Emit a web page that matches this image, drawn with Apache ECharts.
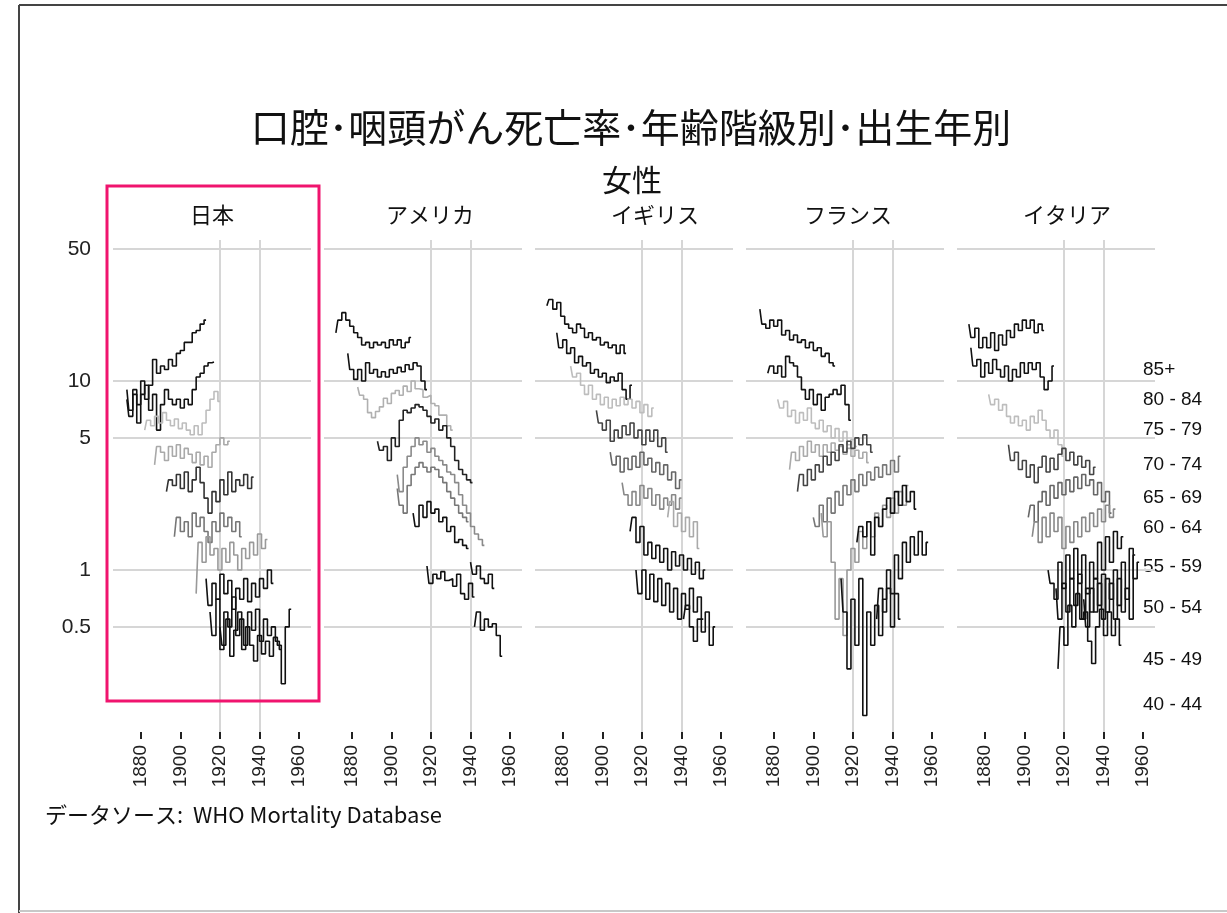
<!DOCTYPE html>
<html>
<head>
<meta charset="utf-8">
<script src="https://cdn.jsdelivr.net/npm/echarts@6/dist/echarts.min.js"></script>
<style>
  html, body { margin: 0; padding: 0; background: #fff; }
  #chart { width: 1227px; height: 913px; }
</style>
</head>
<body>
<div id="chart"></div>
<script>
// 口腔・咽頭がん死亡率（女性, 人口10万対）: 年齢階級別・出生年別
const countries = ['日本', 'アメリカ', 'イギリス', 'フランス', 'イタリア'];
const ageGroups = ['85+', '80 - 84', '75 - 79', '70 - 74', '65 - 69', '60 - 64', '55 - 59', '50 - 54', '45 - 49', '40 - 44'];
const yTicks = [0.5, 1, 5, 10, 50];
const xTicks = [1880, 1900, 1920, 1940, 1960];
const xGridYears = [1920, 1940];

// 各年齢階級の最初の出生年（2年刻み）
const jpStart = [1873, 1873, 1882, 1887, 1893, 1897, 1908, 1913, 1915, 1920];
const jpRates = [
  [8, 6.5, 9, 7.5, 10, 8, 9.5, 13, 11, 12, 11.5, 13, 12, 14, 14.5, 16, 16, 18, 18.5, 20, 21],
  [9, 7, 8.5, 6, 8.5, 9.5, 7, 8.5, 5.5, 7.5, 9, 8, 7.5, 8, 7.2, 8, 7.5, 9, 10.5, 11, 12, 12.5, 12.6],
  [5.5, 6.2, 5.8, 6.5, 6, 6.8, 6.2, 5.8, 6.3, 5.6, 6, 5.5, 5.2, 5.8, 5.2, 6, 7, 8, 8.8, 7.8],
  [3.6, 4.5, 4.2, 3.8, 4.5, 4.0, 4.6, 3.9, 4.4, 4.1, 3.7, 4.2, 3.6, 4.0, 3.5, 4.2, 4.6, 5.0, 4.6, 4.8],
  [2.6, 3.0, 2.8, 3.2, 2.7, 3.3, 2.6, 3.0, 3.5, 2.9, 2.4, 2.0, 2.6, 2.3, 3.0, 2.5, 3.3, 2.6, 3.0, 2.8, 3.2, 2.7, 3.1],
  [1.5, 1.9, 1.6, 1.8, 1.5, 2.0, 1.7, 1.9, 1.6, 1.4, 1.8, 1.6, 2.0, 1.7, 1.9, 1.6, 1.8, 1.5],
  [0.75, 1.4, 1.1, 1.5, 1.2, 1.3, 1.0, 1.3, 1.1, 1.4, 1.2, 1.0, 1.3, 1.15, 1.4, 1.2, 1.55, 1.3, 1.45],
  [0.9, 0.65, 0.85, 0.7, 0.95, 0.75, 0.88, 0.62, 0.8, 0.7, 0.9, 0.68, 0.85, 0.72, 0.9, 0.8, 1.0, 0.85],
  [0.6, 0.45, 0.7, 0.38, 0.6, 0.5, 0.72, 0.45, 0.55, 0.4, 0.6, 0.48, 0.62, 0.42, 0.55, 0.45, 0.5, 0.42, 0.38],
  [0.5, 0.4, 0.55, 0.35, 0.48, 0.6, 0.38, 0.5, 0.4, 0.33, 0.45, 0.36, 0.42, 0.35, 0.44, 0.4, 0.25, 0.5, 0.62]
];

const usStart = [1872, 1878, 1883, 1893, 1903, 1903, 1911, 1940, 1918, 1942];
const usRates = [
  [18, 21, 23, 21, 19.5, 18, 17, 15.5, 16, 15, 16, 15.5, 16, 15, 16.5, 15.5, 16.5, 15, 16, 17],
  [14, 11.5, 10.2, 11.5, 10, 12.5, 11, 11.5, 10.5, 11.2, 10.5, 11.5, 11, 11.8, 11.2, 12.2, 11.5, 12.5, 12, 10, 9],
  [9.3, 8.4, 8.0, 6.8, 6.4, 6.9, 7.3, 8.1, 7.6, 8.6, 8.9, 8.4, 9.4, 8.8, 10.0, 9.1, 9.0, 8.2, 8.4, 7.6, 7.4, 6.6, 6.6, 5.8, 5.5],
  [4.8, 4.3, 4.5, 3.8, 5.0, 4.5, 6.2, 7.0, 6.8, 7.2, 7.5, 7.3, 7.0, 6.5, 6.0, 6.3, 5.5, 5.8, 5.0, 4.5, 3.8, 3.4, 3.2, 3.0, 2.9],
  [3.2, 2.6, 3.5, 4.0, 4.5, 5.0, 4.6, 4.8, 4.2, 4.4, 4.0, 3.8, 3.6, 3.3, 3.2, 2.9, 2.5, 2.2, 2.0, 1.7, 1.55, 1.45, 1.35],
  [2.7, 2.2, 2.0, 2.8, 3.2, 3.5, 3.7, 3.5, 3.3, 3.5, 3.4, 3.1, 2.9, 2.6, 2.4, 2.2, 2.0, 1.9, 1.8],
  [2.0, 1.7, 2.2, 1.9, 2.3, 2.0, 2.1, 1.8, 1.9, 1.6, 1.7, 1.4, 1.45, 1.35, 1.3],
  [1.1, 0.95, 1.05, 0.9, 0.85, 0.95, 0.8],
  [1.05, 0.85, 0.95, 0.9, 0.98, 0.88, 0.9, 0.82, 0.95, 0.75, 0.7, 0.85, 0.72],
  [0.5, 0.6, 0.48, 0.55, 0.5, 0.52, 0.45, 0.35]
];

const ukStart = [1872, 1877, 1884, 1897, 1904, 1910, 1933, 1914, 1917, 1941];
const ukRates = [
  [25, 27, 24, 26, 22, 20, 19, 18, 20, 19, 17, 18, 16.5, 17, 15.5, 16, 15, 15.5, 14, 15.5, 14],
  [18, 15, 16.5, 14, 15, 12.5, 13.5, 12, 12.5, 11, 11.5, 10.5, 11, 9.8, 10.5, 10, 11, 9, 8, 9.5],
  [12, 10.5, 11, 9.5, 8.5, 9.5, 8, 8.5, 7.5, 8.2, 7.2, 8.0, 7.4, 8.2, 7.5, 8.0, 7.2, 7.8, 6.8, 7.5, 6.5, 7.2],
  [7.0, 6.0, 5.5, 6.2, 4.8, 5.5, 5.0, 5.8, 5.2, 6.0, 5.0, 5.5, 4.6, 5.5, 4.8, 5.5, 4.5, 5.0, 4.2],
  [4.2, 3.6, 4.0, 3.3, 3.9, 3.4, 4.0, 3.5, 4.2, 3.6, 3.9, 3.3, 3.7, 3.2, 3.6, 3.0, 3.3, 2.7, 3.0],
  [2.9, 2.5, 2.2, 2.6, 2.2, 2.8, 2.4, 2.7, 2.2, 2.5, 2.1, 2.4, 2.2, 2.5, 2.1, 2.4],
  [1.9, 2.3, 1.7, 2.0, 1.6, 1.9, 1.5, 1.8, 1.3],
  [1.6, 1.9, 1.4, 1.7, 1.2, 1.4, 1.15, 1.35, 1.1, 1.3, 1.0, 1.25, 1.05, 1.2, 1.0, 1.15, 0.95, 1.1, 0.9, 1.0],
  [1.0, 0.75, 1.0, 0.7, 0.95, 0.68, 0.9, 0.65, 0.85, 0.6, 0.8, 0.55, 0.75, 0.62, 0.8, 0.6, 0.72, 0.55],
  [0.55, 0.65, 0.5, 0.42, 0.55, 0.47, 0.6, 0.4, 0.5]
];

const frStart = [1873, 1877, 1882, 1888, 1892, 1900, 1904, 1922, 1914, 1932];
const frRates = [
  [24, 20, 19, 21, 19.5, 21, 17.5, 18.5, 16.5, 17.5, 16, 16.5, 15, 16, 14.5, 15, 13.5, 14, 12.5, 12],
  [11, 12, 11, 12, 10.5, 13.5, 12.5, 12, 10.5, 9, 8, 9, 7.5, 8.5, 7, 8.2, 8.5, 9, 8.5, 9.5, 7.5, 6.2],
  [8, 7.2, 7.8, 6.5, 7.0, 6.0, 6.8, 6.2, 7.2, 6.0, 5.6, 6.2, 5.4, 5.8, 5.0, 5.6, 4.8, 5.4, 4.6, 4.9, 4.5],
  [3.4, 4.2, 3.8, 4.5, 4.0, 4.8, 4.2, 4.6, 4.0, 4.6, 4.2, 4.7, 4.3, 4.5, 4.1, 4.4, 4.0, 4.3, 3.9, 4.2, 3.7],
  [2.6, 3.2, 2.8, 3.4, 3.0, 3.6, 3.3, 4.0, 3.6, 4.2, 3.8, 4.6, 4.2, 4.8, 4.4, 5.0, 4.6, 5.2, 4.6, 4.2],
  [1.9, 1.7, 2.2, 1.8, 2.4, 2.0, 2.6, 2.2, 2.8, 2.5, 3.0, 2.6, 3.2, 2.8, 3.3, 3.0, 3.5, 3.1, 3.6, 3.2, 3.8, 3.3, 4.0],
  [2.0, 1.5, 1.8, 1.1, 0.55, 0.9, 0.45, 1.0, 1.3, 1.1, 1.6, 1.3, 1.8, 1.5, 2.0, 1.7, 2.2, 1.9, 2.4, 2.0, 2.6, 2.2, 2.8],
  [1.4, 1.7, 1.5, 1.8, 1.2, 1.9, 1.7, 2.1, 2.4, 2.0, 2.6, 2.2, 2.8, 2.3, 2.6, 2.1],
  [0.9, 0.6, 0.3, 0.7, 0.4, 0.9, 0.17, 0.6, 0.4, 0.65, 0.45, 0.7, 0.8, 0.5, 0.75, 0.55],
  [0.55, 0.8, 0.6, 1.0, 0.75, 1.2, 0.9, 1.4, 1.1, 1.5, 1.2, 1.6, 1.2, 1.4]
];

const itStart = [1872, 1873, 1882, 1892, 1902, 1904, 1912, 1916, 1917, 1930];
const itRates = [
  [20, 17, 19, 15, 17, 15, 18, 14.5, 17.5, 15.5, 18.5, 17, 20, 18.5, 21, 19, 21, 18, 20, 18.5],
  [15, 12, 13, 10.5, 12.5, 11, 13, 11.5, 10.5, 12, 10, 11.5, 10.5, 12.5, 11, 12.5, 11.5, 12.5, 10.5, 9.0, 10.0, 12],
  [8.5, 7.5, 8.0, 7.0, 7.5, 6.5, 6.0, 6.5, 5.8, 6.2, 5.5, 6.5, 6.0, 7.0, 6.2, 5.5, 5.0, 5.5, 4.6, 4.0],
  [4.6, 3.8, 4.2, 3.4, 3.8, 3.1, 3.6, 2.9, 3.5, 4.0, 3.3, 3.9, 3.4, 4.1, 4.4, 3.8, 4.2, 3.6, 4.0, 3.5, 3.8, 3.2, 3.5],
  [1.9, 2.2, 1.8, 2.3, 2.6, 2.2, 2.8, 2.4, 2.9, 2.5, 3.0, 2.6, 3.1, 2.7, 3.2, 2.8, 3.0, 2.5, 2.9, 2.3, 2.6, 2.0],
  [1.5, 1.8, 1.4, 1.9, 1.5, 2.0, 1.6, 1.9, 1.3, 1.7, 1.4, 1.8, 1.5, 1.9, 1.6, 2.0, 1.7, 2.1, 1.8, 2.2, 1.9, 2.1],
  [1.0, 0.85, 0.7, 1.1, 0.8, 1.2, 0.9, 1.3, 0.85, 1.2, 0.75, 1.1, 0.9, 1.4, 1.0, 1.5, 1.1, 1.6, 1.3, 1.5],
  [0.8, 0.55, 0.85, 0.6, 0.9, 0.65, 0.95, 0.55, 0.8, 0.6, 0.9, 0.65, 0.95, 0.6, 0.85, 0.55, 0.9, 0.6, 0.8, 0.55, 1.2],
  [0.3, 0.5, 0.4, 0.65, 0.5, 0.75, 0.55, 0.6, 0.42, 0.32, 0.5, 0.62, 0.45, 0.6, 0.45, 0.55, 0.4],
  [0.7, 0.5, 0.8, 0.6, 0.85, 0.55, 0.9, 0.7, 1.0, 0.65, 1.1, 0.7, 1.3, 0.9, 1.1]
];

// 線の濃淡（年齢階級順）
const jpShades = ['#111', '#111', '#bdbdbd', '#a9a9a9', '#333', '#777', '#999', '#111', '#111', '#111'];
const usShades = ['#111', '#111', '#b0b0b0', '#222', '#8a8a8a', '#777', '#111', '#111', '#111', '#111'];
const ukShades = ['#111', '#111', '#bdbdbd', '#444', '#666', '#888', '#aaa', '#111', '#111', '#111'];
const frShades = ['#111', '#111', '#bdbdbd', '#aaa', '#444', '#777', '#999', '#111', '#111', '#111'];
const itShades = ['#111', '#111', '#bdbdbd', '#444', '#666', '#888', '#111', '#111', '#111', '#111'];

const panels = [
  { start: jpStart, rates: jpRates, shades: jpShades },
  { start: usStart, rates: usRates, shades: usShades },
  { start: ukStart, rates: ukRates, shades: ukShades },
  { start: frStart, rates: frRates, shades: frShades },
  { start: itStart, rates: itRates, shades: itShades }
];

// 縦軸は対数目盛り（log10 に変換して描く）
const yMin = -0.857, yMax = 1.746;
const yTickPos = yTicks.map(v => Math.log10(v));
const numFont = 'Liberation Sans, Arial, sans-serif';
const jpFont = '"Noto Sans CJK JP", sans-serif';
const gridColor = '#d6d6d6';

const grids = [], xAxes = [], yAxes = [], series = [];
panels.forEach((p, i) => {
  const left = 113 + 211 * i;
  grids.push({ left: left, top: 240, width: 198, height: 492 });
  xAxes.push({
    type: 'value', gridIndex: i, min: 1866, max: 1966, position: 'bottom',
    axisLine: { show: false, onZero: false },
    axisTick: { show: true, customValues: xTicks, length: 7, lineStyle: { color: '#222', width: 2 } },
    axisLabel: { customValues: xTicks, rotate: 90, margin: 13, fontSize: 19, color: '#222', fontFamily: numFont, formatter: v => String(v) },
    splitLine: { show: false }
  });
  // 1920, 1940 の縦グリッド線だけ
  xAxes.push({
    type: 'value', gridIndex: i, min: 1866, max: 1966, position: 'top',
    axisLine: { show: false, onZero: false },
    axisTick: { show: false, customValues: xGridYears },
    axisLabel: { show: false, customValues: xGridYears },
    splitLine: { show: true, lineStyle: { color: gridColor, width: 2 } }
  });
  yAxes.push({
    type: 'value', gridIndex: i, min: yMin, max: yMax,
    axisLine: { show: false },
    axisTick: { show: false, customValues: yTickPos },
    axisLabel: {
      show: i === 0, customValues: yTickPos, margin: 22, fontSize: 21, color: '#222', fontFamily: numFont,
      formatter: function (v) {
        const n = Math.pow(10, v);
        return n < 1 ? n.toFixed(1) : String(Math.round(n));
      }
    },
    splitLine: { show: true, lineStyle: { color: gridColor, width: 2 } }
  });
  p.rates.forEach((vals, a) => {
    series.push({
      type: 'line',
      name: ageGroups[a],
      xAxisIndex: 2 * i,
      yAxisIndex: i,
      data: vals.map((v, k) => [p.start[a] + 2 * k, Math.log10(v)]),
      symbol: 'none',
      step: 'middle',
      silent: true,
      lineStyle: { color: p.shades[a], width: 1.6 }
    });
  });
});

const panelTitleX = [212, 430, 655, 848, 1067];
const ageLabelY = [370, 400, 430, 465, 498, 528, 567, 608, 660, 705];

const graphic = [
  { type: 'line', shape: { x1: 19, y1: 5, x2: 1227, y2: 5 }, style: { stroke: '#444', lineWidth: 2 } },
  { type: 'line', shape: { x1: 19, y1: 5, x2: 19, y2: 913 }, style: { stroke: '#444', lineWidth: 2 } },
  { type: 'line', shape: { x1: 19, y1: 911, x2: 1227, y2: 911 }, style: { stroke: '#c8c8c8', lineWidth: 2 } },
  { type: 'text', style: { text: '口腔･咽頭がん死亡率･年齢階級別･出生年別', x: 631, y: 127, align: 'center', verticalAlign: 'middle', font: '39px ' + jpFont, fill: '#111' } },
  { type: 'text', style: { text: '女性', x: 632, y: 180, align: 'center', verticalAlign: 'middle', font: '30px ' + jpFont, fill: '#111' } },
  { type: 'text', style: { text: 'データソース:  WHO Mortality Database', x: 45, y: 815, align: 'left', verticalAlign: 'middle', font: '22px ' + jpFont, fill: '#111' } },
  { type: 'rect', shape: { x: 107, y: 186, width: 212, height: 515 }, style: { fill: 'none', stroke: '#f0146e', lineWidth: 3 }, z: 10 }
];
countries.forEach((c, i) => {
  graphic.push({ type: 'text', style: { text: c, x: panelTitleX[i], y: 215, align: 'center', verticalAlign: 'middle', font: '22px ' + jpFont, fill: '#111' } });
});
ageGroups.forEach((g, a) => {
  graphic.push({ type: 'text', style: { text: g, x: 1143, y: ageLabelY[a], align: 'left', verticalAlign: 'middle', font: '19px ' + numFont, fill: '#111' } });
});

const chart = echarts.init(document.getElementById('chart'));
chart.setOption({
  backgroundColor: '#fff',
  animation: false,
  grid: grids,
  xAxis: xAxes,
  yAxis: yAxes,
  series: series,
  graphic: graphic
});
</script>
</body>
</html>
